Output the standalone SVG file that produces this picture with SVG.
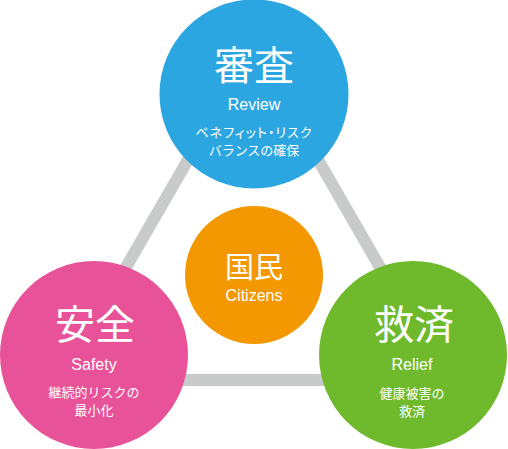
<svg xmlns="http://www.w3.org/2000/svg" width="508" height="449" viewBox="0 0 508 449">
<style>
.ja{font-family:"Noto Sans CJK JP",sans-serif;fill:#fff;text-anchor:middle}
.en{font-family:"Liberation Sans",Arial,sans-serif;fill:#fff;text-anchor:middle;font-size:16px}
.h{font-size:40px}
.d{font-size:13px}
.p{font-feature-settings:"palt";letter-spacing:1px}
.link{fill:none;stroke:#c9caca;stroke-width:12}
</style>
<g id="connectors">
<polygon class="link" points="253,47 445,380 61,380"/>
</g>
<g id="review">
<circle cx="254" cy="94" r="94.5" fill="#2ca6e0"/>
<text class="ja h" x="254" y="80">審査</text>
<text class="en" x="254" y="110">Review</text>
<text class="ja d p" x="254" y="137">ベネフィット・リスク</text>
<text class="ja d" x="254" y="155">バランスの確保</text>
</g>
<g id="safety">
<circle cx="94" cy="355" r="94" fill="#e85298"/>
<text class="ja h" x="95" y="339">安全</text>
<text class="en" x="94" y="370">Safety</text>
<text class="ja d" x="94" y="397">継続的リスクの</text>
<text class="ja d" x="94" y="415">最小化</text>
</g>
<g id="relief">
<circle cx="413" cy="355" r="94" fill="#6fba2c"/>
<text class="ja h" x="414" y="339">救済</text>
<text class="en" x="412" y="370">Relief</text>
<text class="ja d" x="412" y="398">健康被害の</text>
<text class="ja d" x="412" y="416">救済</text>
</g>
<g id="citizens">
<circle cx="254" cy="275" r="69" fill="#f39800"/>
<text class="ja" x="254" y="278" font-size="29">国民</text>
<text class="en" x="254" y="301">Citizens</text>
</g>
</svg>
